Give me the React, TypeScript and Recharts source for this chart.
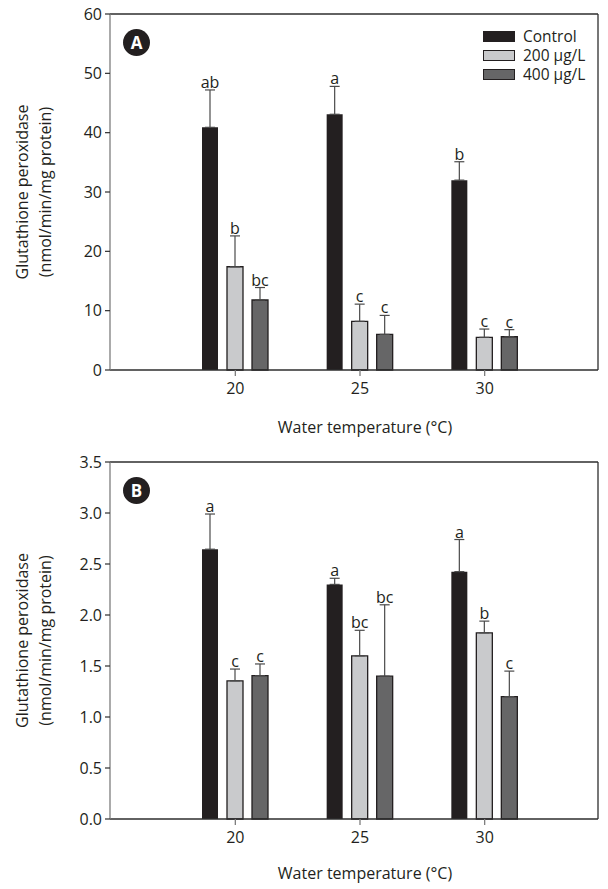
import React from 'react';
import { BarChart, Bar, XAxis, YAxis, ErrorBar, LabelList, CartesianGrid } from 'recharts';

const temps = ['20', '25', '30'];

// panel A
const controlA = [40.9, 43.1, 32.0];
const controlAErr = [6.3, 4.7, 3.1];
const low200A = [17.4, 8.2, 5.5];
const low200AErr = [5.2, 2.9, 1.4];
const high400A = [11.8, 6.0, 5.6];
const high400AErr = [2.1, 3.2, 1.2];
const lettersControlA = ['ab', 'a', 'b'];
const letters200A = ['b', 'c', 'c'];
const letters400A = ['bc', 'c', 'c'];
const ticksA = [0, 10, 20, 30, 40, 50, 60];

// panel B
const controlB = [2.645, 2.3, 2.425];
const controlBErr = [0.345, 0.06, 0.315];
const low200B = [1.355, 1.6, 1.825];
const low200BErr = [0.115, 0.25, 0.115];
const high400B = [1.405, 1.4, 1.2];
const high400BErr = [0.115, 0.7, 0.25];
const lettersControlB = ['a', 'a', 'a'];
const letters200B = ['c', 'bc', 'b'];
const letters400B = ['c', 'bc', 'c'];
const ticksB = [0, 0.5, 1, 1.5, 2, 2.5, 3, 3.5];

const seriesNames = ['Control', '200 μg/L', '400 μg/L'];

const FONT = '"Open Sans", sans-serif';
const INK = '#231f20';
const AXIS = '#2e2e2e';
const GREY_AXIS = '#7d7d7d';
const COLORS = ['#231f20', '#c9cacc', '#666667'];

type Panel = {
  means: number[][];
  errs: number[][];
  letters: string[][];
  ticks: number[];
  fmt: (v: number) => string;
};

const panelA: Panel = {
  means: [controlA, low200A, high400A],
  errs: [controlAErr, low200AErr, high400AErr],
  letters: [lettersControlA, letters200A, letters400A],
  ticks: ticksA,
  fmt: (v) => String(v),
};

const panelB: Panel = {
  means: [controlB, low200B, high400B],
  errs: [controlBErr, low200BErr, high400BErr],
  letters: [lettersControlB, letters200B, letters400B],
  ticks: ticksB,
  fmt: (v) => v.toFixed(1),
};

const buildRows = (p: Panel) =>
  temps.map((t, i) => {
    const row: any = { temp: t };
    p.means.forEach((m, s) => {
      row['s' + s] = m[i];
      row['e' + s] = [0, p.errs[s][i]];
      row['l' + s] = p.letters[s][i];
    });
    return row;
  });

const YLabel = (props: any) => {
  const vb = props.viewBox || {};
  const cy = vb.y + vb.height / 2;
  return (
    <g>
      <text x={22} y={cy} transform={`rotate(-90, 22, ${cy})`} textAnchor="middle" dominantBaseline="central"
        fontFamily={FONT} fontSize={16} fill={INK}>Glutathione peroxidase</text>
      <text x={45} y={cy} transform={`rotate(-90, 45, ${cy})`} textAnchor="middle" dominantBaseline="central"
        fontFamily={FONT} fontSize={16} fill={INK}>(nmol/min/mg protein)</text>
    </g>
  );
};

const XLabel = (props: any) => {
  const vb = props.viewBox || {};
  return (
    <text x={365} y={vb.y + props.dyTitle} textAnchor="middle" dominantBaseline="central"
      fontFamily={FONT} fontSize={16} fill={INK}>Water temperature (°C)</text>
  );
};

const makeLetter = (p: Panel, s: number) => (props: any) => {
  const { x, y, width, height, index, value } = props;
  const m = p.means[s][index];
  const top = y - (p.errs[s][index] * height) / m;
  return (
    <text x={x + width / 2} y={top - 2} textAnchor="middle" fontFamily={FONT} fontSize={16} fill={INK}>
      {value}
    </text>
  );
};

const LegendBox = () => (
  <div style={{ position: 'absolute', left: 483, top: 27, fontFamily: FONT, fontSize: 15.5, color: INK }}>
    {seriesNames.map((n, i) => (
      <div key={n} style={{ display: 'flex', alignItems: 'center', height: 19 }}>
        <span style={{ display: 'block', width: 30, height: 9, background: COLORS[i],
          border: `1.3px solid ${INK}`, marginRight: 8 }} />
        <span style={{ display: 'block', height: 19, lineHeight: '19px' }}>{n}</span>
      </div>
    ))}
  </div>
);

const Badge = ({ label, top }: { label: string; top: number }) => (
  <div style={{ position: 'absolute', left: 123, top, width: 27, height: 27, borderRadius: '50%',
    background: INK, color: '#fff', fontFamily: FONT, fontWeight: 700, fontSize: 17,
    display: 'flex', alignItems: 'center', justifyContent: 'center' }}>{label}</div>
);

// frame: top edge and right edge of the plot area
const topEdge = ({ offset }: any) => [offset.top];
const rightEdge = ({ offset }: any) => [offset.left + offset.width];

const GpxChart = ({ p, height, top, xHeight, dyTitle }:
  { p: Panel; height: number; top: number; xHeight: number; dyTitle: number }) => {
  const rows = buildRows(p);
  const max = p.ticks[p.ticks.length - 1];
  return (
    <BarChart width={608} height={height} data={rows} barSize={16} barGap={9}
      margin={{ top, right: 10, bottom: 0, left: 0 }}>
      <CartesianGrid stroke={AXIS} strokeWidth={1.3} horizontalCoordinatesGenerator={topEdge}
        verticalCoordinatesGenerator={rightEdge} syncWithTicks={false} />
      <XAxis dataKey="temp" height={xHeight} padding={{ left: 63, right: 51 }}
        axisLine={{ stroke: AXIS, strokeWidth: 1.3 }} tickLine={{ stroke: GREY_AXIS, strokeWidth: 1.3 }}
        tickSize={6} tickMargin={7} tick={{ fontFamily: FONT, fontSize: 16, fill: INK }}
        label={<XLabel dyTitle={dyTitle} />} />
      <YAxis width={110} domain={[0, max]} ticks={p.ticks} tickFormatter={p.fmt} interval={0}
        axisLine={{ stroke: GREY_AXIS, strokeWidth: 1.3 }} tickLine={{ stroke: AXIS, strokeWidth: 1.2 }}
        tickSize={5} tickMargin={3} tick={{ fontFamily: FONT, fontSize: 16, fill: INK }}
        label={<YLabel />} />
      {[0, 1, 2].map((s) => (
        <Bar key={s} dataKey={'s' + s} name={seriesNames[s]} fill={COLORS[s]}
          stroke={s === 0 ? 'none' : INK} strokeWidth={1.3} isAnimationActive={false}>
          <ErrorBar dataKey={'e' + s} width={5} stroke="#4a4a4a" strokeWidth={1.2} direction="y" />
          <LabelList dataKey={'l' + s} content={makeLetter(p, s)} />
        </Bar>
      ))}
    </BarChart>
  );
};

export default function App() {
  return (
    <div style={{ position: 'absolute', left: 0, top: 0, width: 608, height: 889, background: '#fff' }}>
      <div style={{ position: 'absolute', left: 0, top: 0 }}>
        <GpxChart p={panelA} height={445} top={14} xHeight={75} dyTitle={57} />
      </div>
      <div style={{ position: 'absolute', left: 0, top: 445 }}>
        <GpxChart p={panelB} height={444} top={17} xHeight={70} dyTitle={54} />
      </div>
      <LegendBox />
      <Badge label="A" top={29} />
      <Badge label="B" top={477} />
    </div>
  );
}
